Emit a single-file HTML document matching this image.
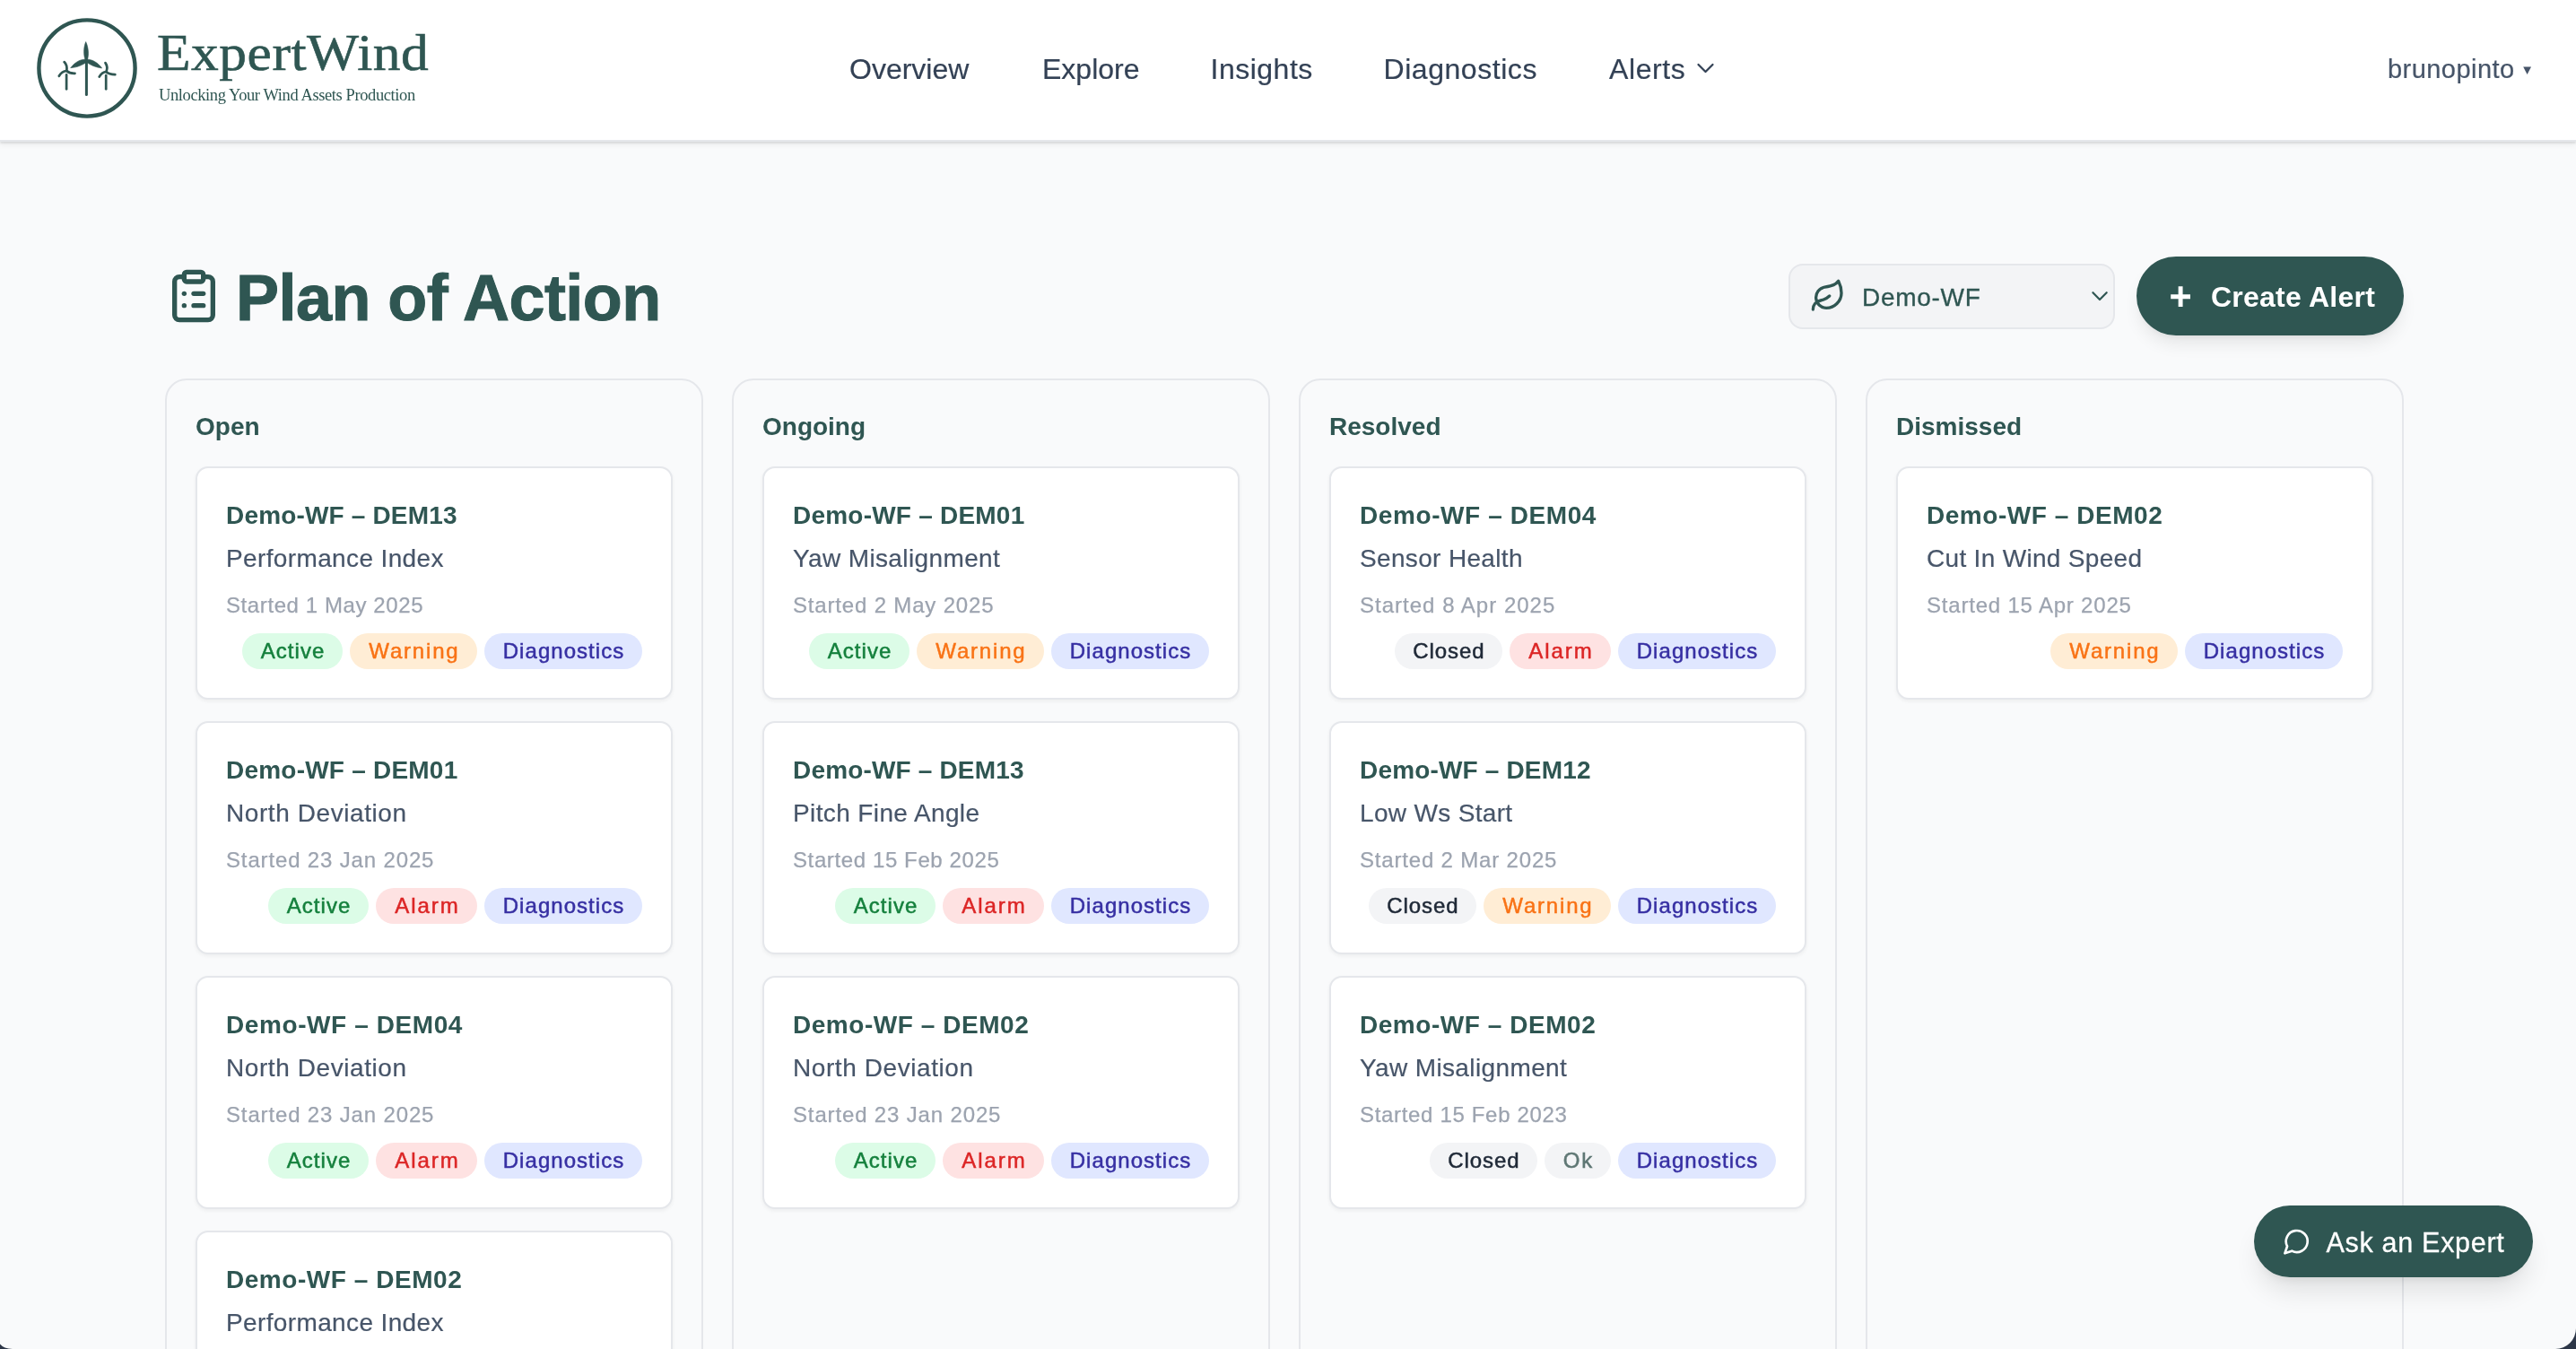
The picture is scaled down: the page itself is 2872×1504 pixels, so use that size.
<!DOCTYPE html>
<html lang="en">
<head>
<meta charset="utf-8">
<title>ExpertWind - Plan of Action</title>
<style>
*{box-sizing:border-box;margin:0;padding:0}
html,body{width:2872px;height:1504px;overflow:hidden}
body{font-family:"Liberation Sans",sans-serif;background:#f9fafb;position:relative;color:#2f5652}
.abs{position:absolute;white-space:nowrap}
#wrap{position:absolute;left:0;top:0;width:2872px;height:1504px;will-change:transform}
#ov{position:absolute;left:0;top:0;width:2872px;height:1504px;pointer-events:none}
/* header */
#hdr{position:absolute;left:0;top:0;width:2872px;height:158px;background:#fff;border-bottom:2px solid #e5e7eb;box-shadow:0 2px 2px rgba(0,0,0,.09),0 4px 6px rgba(0,0,0,.05)}
#brand{font-family:"Liberation Serif",serif;color:#2f5652;left:175px;top:23.5px;font-size:58px;line-height:70px;letter-spacing:.5px;-webkit-text-stroke:.6px #2f5652;transform:scaleX(1.06);transform-origin:0 0}
#tag{font-family:"Liberation Serif",serif;color:#2f5652;left:177px;top:94px;font-size:18.5px;line-height:24px;letter-spacing:-.4px}
.nav{top:57px;font-size:32px;line-height:40px;color:#334155;-webkit-text-stroke:.2px #334155}
#user{top:58.5px;left:2662px;font-size:29px;line-height:36px;color:#475569;letter-spacing:.45px;-webkit-text-stroke:.2px #475569}
/* title row */
#h1{left:263px;top:292px;font-size:72px;line-height:80px;font-weight:700;color:#2f5652;letter-spacing:-.55px;-webkit-text-stroke:1px #2f5652}
#sel{position:absolute;left:1994px;top:294px;width:364px;height:73px;border:2px solid #e5e7eb;border-radius:16px;background:#f3f4f6}
#seltxt{left:2076px;top:311.5px;font-size:28px;line-height:40px;color:#2f5652;letter-spacing:.7px;-webkit-text-stroke:.3px #2f5652}
#create{position:absolute;left:2382px;top:286px;width:298px;height:88px;border-radius:44px;background:#2f5652;box-shadow:0 12px 20px -4px rgba(0,0,0,.09),0 4px 8px -4px rgba(0,0,0,.08)}
#createtxt{left:2465px;top:311px;font-size:32px;line-height:40px;font-weight:700;color:#fff;letter-spacing:.24px}
/* board */
#board{position:absolute;left:184px;top:422px;width:2496px;height:1200px;display:flex;gap:32px}
.col{width:600px;height:1200px;border:2px solid #e5e7eb;border-radius:24px;padding:32px;background:#f9fafb}
.col h2{font-size:28px;line-height:40px;font-weight:700;color:#2f5652;margin-bottom:24px}
.card{width:532px;height:260px;border:2px solid #e5e7eb;border-radius:14px;background:#fff;padding:32px;margin-bottom:24px;box-shadow:0 2px 4px rgba(0,0,0,.05)}
.t{font-size:28px;line-height:40px;font-weight:700;color:#2f5652;margin-bottom:8px;white-space:nowrap;letter-spacing:.15px;position:relative;top:1px}
.s{font-size:28px;line-height:40px;color:#475569;white-space:nowrap;letter-spacing:.36px;position:relative;top:.5px;-webkit-text-stroke:.2px #475569}
.d{font-size:24px;line-height:32px;color:#9ca3af;margin-top:16px;white-space:nowrap;letter-spacing:.57px;position:relative;top:1px;-webkit-text-stroke:.25px #9ca3af}
.b{display:flex;justify-content:flex-end;gap:8px;margin-top:16px}
.b span{height:40px;line-height:40px;font-size:24px;border-radius:20px;white-space:nowrap;text-align:center;-webkit-text-stroke:.5px currentColor;position:relative;top:0}
.g{background:#dcfce7;color:#15803d;width:112px;letter-spacing:1.05px;padding-left:1.05px}
.o{background:#ffedd5;color:#f97316;width:142px;letter-spacing:1.8px;padding-left:1.8px}
.i{background:#e0e7ff;color:#3730a3;width:176px;letter-spacing:1.05px;padding-left:1.05px}
.r{background:#fee2e2;color:#dc2626;width:113px;letter-spacing:2px;padding-left:2px}
.c{background:#f3f4f6;color:#1f2937;width:120px;letter-spacing:.95px;padding-left:.95px}
.k{background:#f3f4f6;color:#5f7774;width:74px;letter-spacing:1.6px;padding-left:1.6px}
/* ask */
#ask{position:absolute;left:2513px;top:1344px;width:311px;height:80px;border-radius:40px;background:#2f5652;box-shadow:0 20px 30px -6px rgba(0,0,0,.11),0 8px 12px -8px rgba(0,0,0,.10)}
#asktxt{left:2593.5px;top:1365px;font-size:30.5px;line-height:40px;color:#fff;letter-spacing:.7px;-webkit-text-stroke:.3px #fff}
</style>
</head>
<body>
<div id="wrap">
<div id="hdr"></div>
<div id="brand" class="abs">ExpertWind</div>
<div id="tag" class="abs">Unlocking Your Wind Assets Production</div>
<div class="abs nav" style="left:947px">Overview</div>
<div class="abs nav" style="left:1162px">Explore</div>
<div class="abs nav" style="left:1349.5px;letter-spacing:.5px">Insights</div>
<div class="abs nav" style="left:1542.5px;letter-spacing:.55px">Diagnostics</div>
<div class="abs nav" style="left:1794px;letter-spacing:.6px">Alerts</div>
<div id="user" class="abs">brunopinto</div>

<div id="h1" class="abs">Plan of Action</div>
<div id="sel"></div>
<div id="seltxt" class="abs">Demo-WF</div>
<div id="create"></div>
<div id="createtxt" class="abs">Create Alert</div>

<div id="board">
<div class="col" id="c1"><h2>Open</h2>
<div class="card"><div class="t" style="letter-spacing:0.17px">Demo-WF – DEM13</div><div class="s" style="letter-spacing:0.37px">Performance Index</div><div class="d" style="letter-spacing:0.59px">Started 1 May 2025</div><div class="b"><span class="g">Active</span><span class="o">Warning</span><span class="i">Diagnostics</span></div></div>
<div class="card"><div class="t" style="letter-spacing:0.22px">Demo-WF – DEM01</div><div class="s" style="letter-spacing:0.58px">North Deviation</div><div class="d" style="letter-spacing:0.85px">Started 23 Jan 2025</div><div class="b"><span class="g">Active</span><span class="r">Alarm</span><span class="i">Diagnostics</span></div></div>
<div class="card"><div class="t" style="letter-spacing:0.59px">Demo-WF – DEM04</div><div class="s" style="letter-spacing:0.58px">North Deviation</div><div class="d" style="letter-spacing:0.85px">Started 23 Jan 2025</div><div class="b"><span class="g">Active</span><span class="r">Alarm</span><span class="i">Diagnostics</span></div></div>
<div class="card"><div class="t" style="letter-spacing:0.54px">Demo-WF – DEM02</div><div class="s" style="letter-spacing:0.37px">Performance Index</div><div class="d" style="letter-spacing:0.98px">Started 2 Jan 2025</div><div class="b"><span class="g">Active</span><span class="o">Warning</span><span class="i">Diagnostics</span></div></div>
</div>
<div class="col" id="c2"><h2>Ongoing</h2>
<div class="card"><div class="t" style="letter-spacing:0.22px">Demo-WF – DEM01</div><div class="s" style="letter-spacing:0.38px">Yaw Misalignment</div><div class="d" style="letter-spacing:0.83px">Started 2 May 2025</div><div class="b"><span class="g">Active</span><span class="o">Warning</span><span class="i">Diagnostics</span></div></div>
<div class="card"><div class="t" style="letter-spacing:0.17px">Demo-WF – DEM13</div><div class="s" style="letter-spacing:0.38px">Pitch Fine Angle</div><div class="d" style="letter-spacing:0.61px">Started 15 Feb 2025</div><div class="b"><span class="g">Active</span><span class="r">Alarm</span><span class="i">Diagnostics</span></div></div>
<div class="card"><div class="t" style="letter-spacing:0.54px">Demo-WF – DEM02</div><div class="s" style="letter-spacing:0.58px">North Deviation</div><div class="d" style="letter-spacing:0.85px">Started 23 Jan 2025</div><div class="b"><span class="g">Active</span><span class="r">Alarm</span><span class="i">Diagnostics</span></div></div>
</div>
<div class="col" id="c3"><h2>Resolved</h2>
<div class="card"><div class="t" style="letter-spacing:0.59px">Demo-WF – DEM04</div><div class="s" style="letter-spacing:0.34px">Sensor Health</div><div class="d" style="letter-spacing:1.01px">Started 8 Apr 2025</div><div class="b"><span class="c">Closed</span><span class="r">Alarm</span><span class="i">Diagnostics</span></div></div>
<div class="card"><div class="t" style="letter-spacing:0.17px">Demo-WF – DEM12</div><div class="s" style="letter-spacing:0.33px">Low Ws Start</div><div class="d" style="letter-spacing:0.82px">Started 2 Mar 2025</div><div class="b"><span class="c">Closed</span><span class="o">Warning</span><span class="i">Diagnostics</span></div></div>
<div class="card"><div class="t" style="letter-spacing:0.54px">Demo-WF – DEM02</div><div class="s" style="letter-spacing:0.38px">Yaw Misalignment</div><div class="d" style="letter-spacing:0.67px">Started 15 Feb 2023</div><div class="b"><span class="c">Closed</span><span class="k">Ok</span><span class="i">Diagnostics</span></div></div>
</div>
<div class="col" id="c4"><h2>Dismissed</h2>
<div class="card"><div class="t" style="letter-spacing:0.54px">Demo-WF – DEM02</div><div class="s" style="letter-spacing:0.31px">Cut In Wind Speed</div><div class="d" style="letter-spacing:0.80px">Started 15 Apr 2025</div><div class="b"><span class="o">Warning</span><span class="i">Diagnostics</span></div></div>
</div>
</div>

<div id="ask"></div>
<div id="asktxt" class="abs">Ask an Expert</div>

<svg id="ov" viewBox="0 0 2872 1504" fill="none">
<!-- logo -->
<g id="logo" stroke="#2f5652" fill="#2f5652">
<circle cx="97" cy="76" r="53.6" stroke-width="4.4" fill="none"/>
<path d="M96.4 66.5V105.5" stroke-width="3" stroke-linecap="round" fill="none"/>
<path d="M95.2 67.2C93 61.5 93 53 95.7 46.6C98.6 53 99.3 61 97.3 67.2Z" stroke-width=".6"/>
<path d="M96.6 66.4C90 65.4 83.4 69.5 78.7 75.7C86 75.2 92.6 72.6 97.2 68.6Z" stroke-width=".6"/>
<path d="M96.2 66.4C102 65.6 109 69.6 113.6 76C106.5 75 100.6 72.6 95.8 68.8Z" stroke-width=".6"/>
<g stroke-width="2.7" stroke-linecap="round" fill="none">
<path d="M74.1 83.4V99.3"/>
<path d="M74.3 79Q75.2 72.5 71.6 69.1"/>
<path d="M74.3 79Q69 79.4 65.8 84.8"/>
<path d="M74.3 79Q77.5 82 83.5 81.8"/>
<path d="M118.2 84V99.3"/>
<path d="M118.5 80Q120.6 74.5 117.5 70.1"/>
<path d="M118.5 80Q113.5 80.4 110.7 85.6"/>
<path d="M118.5 80Q121.5 83 128.3 83.2"/>
</g>
</g>
<!-- nav chevron -->
<g transform="translate(1885.5 60) scale(1.3333)" stroke="#334155" stroke-width="1.7" stroke-linecap="round" stroke-linejoin="round"><path d="m6 9 6 6 6-6"/></g>
<!-- user triangle -->
<path d="M2813.2 74.4H2822L2817.6 83Z" fill="#475569"/>
<!-- clipboard-list -->
<g transform="translate(184 298) scale(2.6667)" stroke="#2f5652" stroke-width="2" stroke-linecap="round" stroke-linejoin="round">
<rect width="8" height="4" x="8" y="2" rx="1" ry="1"/>
<path d="M16 4h2a2 2 0 0 1 2 2v14a2 2 0 0 1-2 2H6a2 2 0 0 1-2-2V6a2 2 0 0 1 2-2h2"/>
<path d="M12 11h4"/><path d="M12 16h4"/><path d="M8 11h.01"/><path d="M8 16h.01"/>
</g>
<!-- leaf -->
<g transform="translate(2018 310) scale(1.6667)" stroke="#2f5652" stroke-width="2" stroke-linecap="round" stroke-linejoin="round">
<path d="M11 20A7 7 0 0 1 9.8 6.1C15.5 5 17 4.48 19 2c1 2 2 4.18 2 8 0 5.5-4.78 10-10 10Z"/>
<path d="M2 21c0-3 1.85-5.36 5.08-6C9.5 14.52 12 13 13 12"/>
</g>
<!-- select chevron -->
<path d="M2333.4 326.2L2341 334L2348.7 326.2" stroke="#2f5652" stroke-width="2.2" stroke-linecap="round" stroke-linejoin="round"/>
<!-- plus -->
<path d="M2420.2 330.7H2442M2431.1 319.3V342" stroke="#fff" stroke-width="4.9"/>
<!-- message-circle -->
<g transform="translate(2544.7 1368) scale(1.3333)" stroke="#fff" stroke-width="2" stroke-linecap="round" stroke-linejoin="round"><path d="M7.9 20A9 9 0 1 0 4 16.1L2 22Z"/></g>
<!-- window corners -->
<path d="M2872 1481A23 23 0 0 1 2849 1504H2872Z" fill="#2d3748"/>
<path d="M0 1498.5Q4 1503.5 14 1504H0Z" fill="#2d3748"/>
</svg>
</div>
</body>
</html>
